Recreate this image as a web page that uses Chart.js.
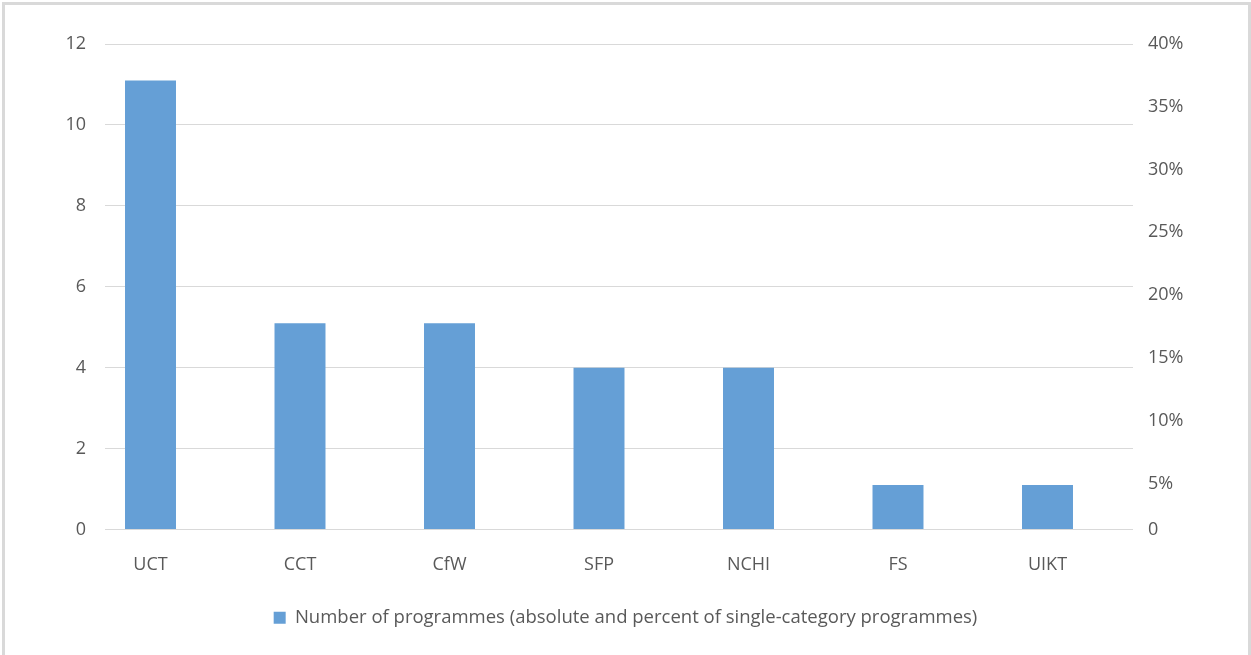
<!DOCTYPE html>
<html>
<head>
<meta charset="utf-8">
<script src="https://cdn.jsdelivr.net/npm/chart.js@4"></script>
<style>
  html, body { margin: 0; padding: 0; background: #fff; }
  #wrap { position: relative; width: 1251px; height: 655px; overflow: hidden; }
  #frame { position: absolute; left: 2px; top: 2px; width: 1243px; height: 670px;
           border: 3px solid #d9d9d9; pointer-events: none; }
</style>
</head>
<body>
<div id="wrap">
  <canvas id="chart" width="1251" height="655"></canvas>
  <div id="frame"></div>
</div>
<script>
const categories = ['UCT', 'CCT', 'CfW', 'SFP', 'NCHI', 'FS', 'UIKT'];
const programmes = [11.1, 5.1, 5.1, 4, 4, 1.1, 1.1];
const leftTicks = [0, 2, 4, 6, 8, 10, 12];
const rightTicks = [5, 10, 15, 20, 25, 30, 35, 40]; // percent
const rightMin = 1.33; // Excel puts the "0" label at the axis bottom

const textColor = '#595959';
const gridColor = '#d9d9d9';
Chart.defaults.font.family = '"Open Sans", Lato, sans-serif';
Chart.defaults.font.size = 18;
Chart.defaults.color = textColor;

// in the original the category axis is a bit narrower and shifted left of the gridlines
const shiftCategoryAxis = {
  id: 'shiftCategoryAxis',
  afterLayout(chart) {
    const x = chart.scales.x;
    x.left = 75.75;
    x.right = 1122.25;
    x.width = x.right - x.left;
    x.configure();
  }
};

new Chart(document.getElementById('chart'), {
  type: 'bar',
  data: {
    labels: categories,
    datasets: [{
      label: 'Number of programmes (absolute and percent of single-category programmes)',
      data: programmes,
      backgroundColor: '#659fd6',
      barPercentage: 1,
      categoryPercentage: 0.341,
      yAxisID: 'y'
    }]
  },
  plugins: [shiftCategoryAxis],
  options: {
    responsive: false,
    animation: false,
    layout: { padding: { top: 44, left: 0, right: 0, bottom: 18 } },
    plugins: {
      legend: {
        position: 'bottom',
        labels: {
          boxWidth: 12, boxHeight: 12, padding: 10, color: textColor,
          font: { size: 18.5 }
        }
      },
      tooltip: { enabled: false }
    },
    scales: {
      x: {
        grid: { display: false },
        border: { display: false },
        ticks: { padding: 17 },
        afterFit: s => { s.height = 69; }
      },
      y: {
        min: 0, max: 12,
        afterBuildTicks: s => { s.ticks = leftTicks.map(v => ({ value: v })); },
        grid: { color: gridColor, drawTicks: false },
        border: { display: false },
        ticks: { padding: 19 },
        afterFit: s => { s.width = 105; }
      },
      y1: {
        position: 'right',
        min: rightMin, max: 40,
        afterBuildTicks: s => {
          s.ticks = [{ value: rightMin }].concat(rightTicks.map(v => ({ value: v })));
        },
        grid: { display: false, drawTicks: false },
        border: { display: false },
        ticks: {
          padding: 15,
          callback: v => (v < 5 ? '0' : v + '%')
        },
        afterFit: s => { s.width = 118; }
      }
    }
  }
});
</script>
</body>
</html>
